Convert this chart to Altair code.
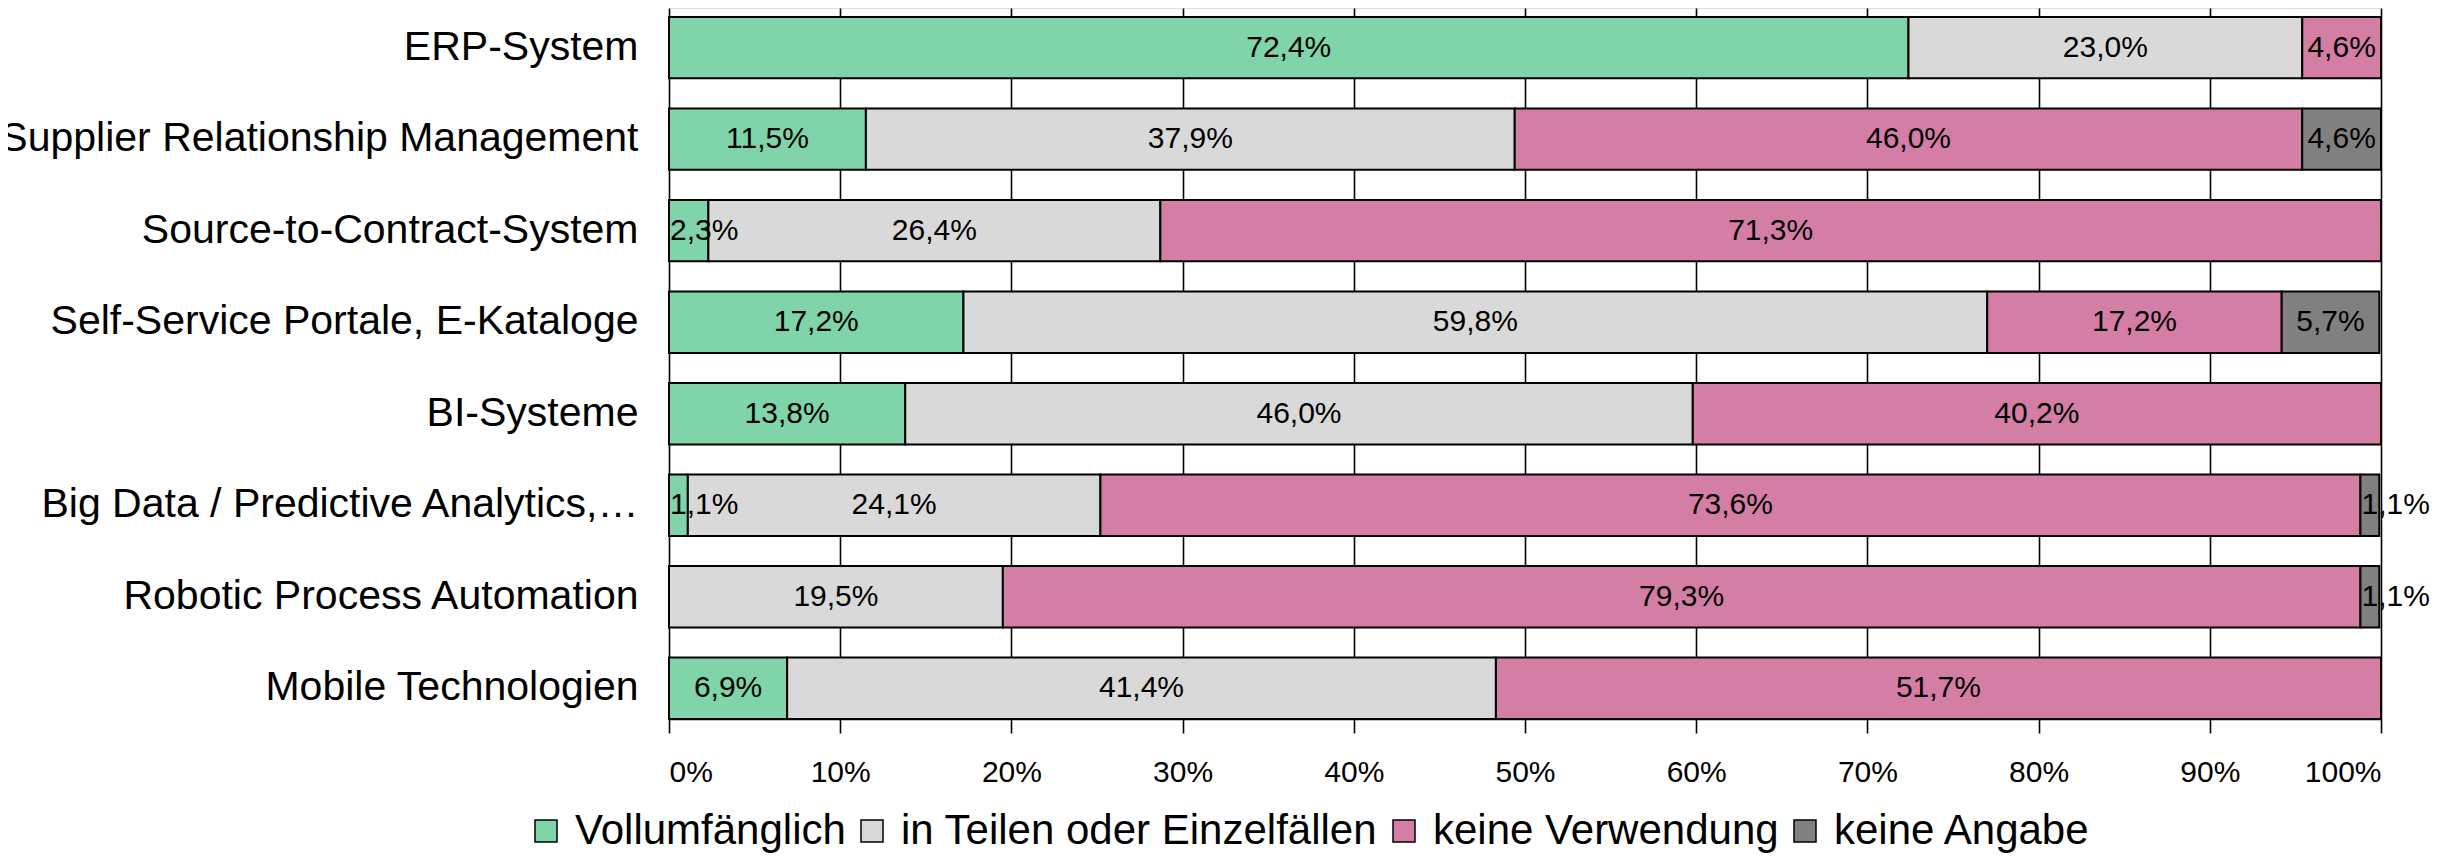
import altair as alt
import pandas as pd

categories = [
    "ERP-System",
    "Supplier Relationship Management",
    "Source-to-Contract-System",
    "Self-Service Portale, E-Kataloge",
    "BI-Systeme",
    "Big Data / Predictive Analytics,…",
    "Robotic Process Automation",
    "Mobile Technologien",
]
series = ["Vollumfänglich", "in Teilen oder Einzelfällen", "keine Verwendung", "keine Angabe"]
colors = ["#7FD4A9", "#D9D9D9", "#D47EA6", "#808080"]

vollumfaenglich = [72.4, 11.5, 2.3, 17.2, 13.8, 1.1, 0.0, 6.9]
in_teilen = [23.0, 37.9, 26.4, 59.8, 46.0, 24.1, 19.5, 41.4]
keine_verwendung = [4.6, 46.0, 71.3, 17.2, 40.2, 73.6, 79.3, 51.7]
keine_angabe = [0.0, 4.6, 0.0, 5.7, 0.0, 1.1, 1.1, 0.0]

x_ticks = [0, 10, 20, 30, 40, 50, 60, 70, 80, 90, 100]

rows = []
for s_idx, (name, vals) in enumerate(zip(series, [vollumfaenglich, in_teilen, keine_verwendung, keine_angabe])):
    for cat, v in zip(categories, vals):
        rows.append({"kategorie": cat, "serie": name, "ord": s_idx, "wert": v})
df = pd.DataFrame(rows)

FONT = "Liberation Sans"

base = alt.Chart(df).transform_filter("datum.wert > 0").transform_stack(
    stack="wert", groupby=["kategorie"], as_=["x0", "x1"],
    sort=[alt.SortField("ord", order="ascending")]
).transform_calculate(
    mid="(datum.x0 + datum.x1) / 2",
    lbl="replace(format(datum.wert, '.1f'), '.', ',') + '%'"
)

x_scale = alt.Scale(domain=[0, 100], nice=False)

y_enc = alt.Y(
    "kategorie:N",
    sort=categories,
    title=None,
    scale=alt.Scale(paddingInner=0.329, paddingOuter=0.0485, align=1),
    axis=alt.Axis(domain=False, ticks=False, labelFontSize=41, labelFont=FONT,
                  labelColor="black", labelPadding=31, labelLimit=1000),
)

bars = base.mark_bar(stroke="black", strokeWidth=2).encode(
    x=alt.X(
        "x0:Q",
        scale=x_scale,
        title=None,
        axis=alt.Axis(values=x_ticks, labelExpr="datum.value + '%'", grid=True,
                      gridColor="black", gridWidth=1.6, gridOpacity=1,
                      tickColor="black", tickSize=14, tickWidth=1.6,
                      domain=True, domainColor="black", domainWidth=1.6,
                      labelFontSize=30, labelFont=FONT, labelColor="black",
                      labelPadding=24),
    ),
    x2="x1:Q",
    y=y_enc,
    color=alt.Color(
        "serie:N",
        scale=alt.Scale(domain=series, range=colors),
        sort=series,
        title=None,
        legend=alt.Legend(
            orient="none", direction="horizontal", legendX=-144, legendY=802,
            symbolType="square", symbolSize=484, symbolStrokeColor="black",
            symbolStrokeWidth=1.5, symbolOpacity=1,
            labelFontSize=42, labelFont=FONT, labelColor="black",
            labelOffset=8, columnPadding=5, labelLimit=1000,
        ),
    ),
)

labels_wide = base.transform_filter("datum.wert >= 3").mark_text(
    fontSize=30, font=FONT, color="black", baseline="middle", align="center"
).encode(
    x=alt.X("mid:Q", scale=x_scale),
    y=alt.Y("kategorie:N", sort=categories),
    text="lbl:N",
)

labels_narrow = base.transform_filter("datum.wert < 3").mark_text(
    fontSize=30, font=FONT, color="black", baseline="middle", align="left", dx=1
).encode(
    x=alt.X("x0:Q", scale=x_scale),
    y=alt.Y("kategorie:N", sort=categories),
    text="lbl:N",
)

chart = (bars + labels_wide + labels_narrow).properties(
    width=1712,
    height=711,
    autosize=alt.AutoSizeParams(type="none"),
    padding={"left": 661, "top": 0, "right": 51, "bottom": 138},
).configure_view(stroke=None).configure(background="white")

chart.save("out.html", embed_options={"renderer": "svg", "actions": False})
